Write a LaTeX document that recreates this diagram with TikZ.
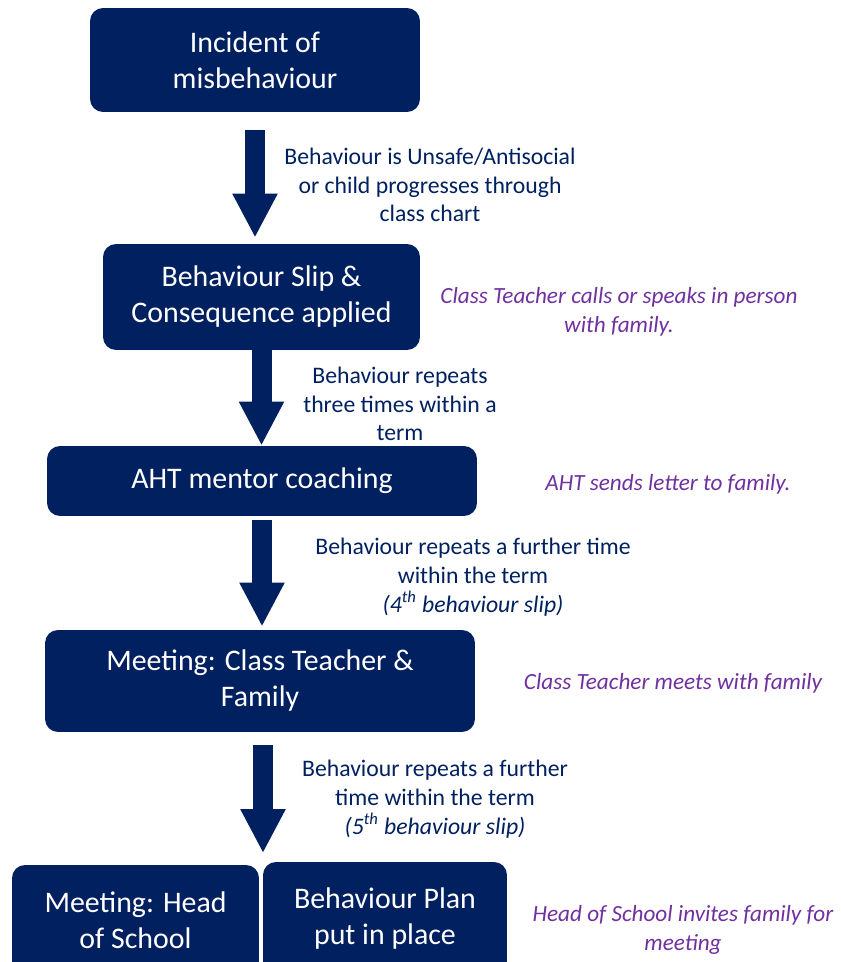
\documentclass[tikz,border=0pt]{standalone}
\usepackage{fontspec}
\setmainfont{Carlito}
\usetikzlibrary{arrows.meta, positioning, calc}
\definecolor{marinho}{RGB}{0,32,96}
\definecolor{roxo}{RGB}{112,48,160}

\begin{document}
\begin{tikzpicture}[x=0.02cm, y=-0.02cm,
    stage/.style={fill=marinho, rounded corners=0.26cm, text=white, align=center,
        inner sep=0pt, font=\fontsize{17}{20.5}\selectfont},
    reason/.style={text=marinho, align=center, font=\fontsize{13.5}{16.4}\selectfont},
    action/.style={text=roxo, align=center, font=\itshape\fontsize{13.2}{16.4}\selectfont},
    flowarrow/.style={draw=marinho, line width=0.4cm,
        -{Triangle[length=0.88cm, width=0.84cm]}}]
    \useasboundingbox (0,0) rectangle (840,962);
    % Stages
    \node[stage, minimum width=6.6cm, minimum height=2.08cm] (incident) at (255,60) {Incident of\\misbehaviour};
    \node[stage, minimum width=6.34cm, minimum height=2.12cm] (slip) at (261.5,297) {Behaviour Slip \&\\Consequence applied};
    \node[stage, minimum width=8.6cm, minimum height=1.4cm] (aht) at (262,481) {AHT mentor coaching};
    \node[stage, minimum width=8.6cm, minimum height=2.04cm] (meeting) at (260,681) {Meeting: Class Teacher \&\\Family};
    \node[stage, minimum width=4.94cm, minimum height=2.2cm] (head) at (135.5,920) {Meeting: Head\\of School};
    \node[stage, minimum width=4.88cm, minimum height=2.26cm] (plan) at (385,918.5) {Behaviour Plan\\put in place};
    \coordinate (split) at ($(head.north east)!0.5!(plan.north west)$);
    % Arrows between stages
    \draw[flowarrow, shorten <=0.36cm, shorten >=0.12cm] (incident.south) -- (incident.south |- slip.north);
    \draw[flowarrow] (slip.south) -- (slip.south |- aht.north);
    \draw[flowarrow, shorten <=0.08cm, shorten >=0.06cm] (aht.south) -- (aht.south |- meeting.north);
    \draw[flowarrow, shorten <=0.26cm, shorten >=0.2cm] ($(meeting.south -| split)+(2,0)$) -- ($(split)+(2,0)$);
    % Reasons beside the arrows
    \node[reason] (why1) at (430,185) {Behaviour is Unsafe/Antisocial\\or child progresses through\\class chart};
    \node[reason] (why2) at (400,404) {Behaviour repeats\\three times within a\\term};
    \node[reason] (why3) at (473,577) {Behaviour repeats a further time\\within the term\\\textit{(4\textsuperscript{th} behaviour slip)}};
    \node[reason] (why4) at (435,799) {Behaviour repeats a further\\time within the term\\\textit{(5\textsuperscript{th} behaviour slip)}};
    % What happens with the family
    \node[action] (note1) at (619,312) {Class Teacher calls or speaks in person\\with family.};
    \node[action] (note2) at (668,484) {AHT sends letter to family.};
    \node[action] (note3) at (673,683) {Class Teacher meets with family};
    \node[action] (note4) at (683,930) {Head of School invites family for\\meeting};
\end{tikzpicture}
\end{document}
